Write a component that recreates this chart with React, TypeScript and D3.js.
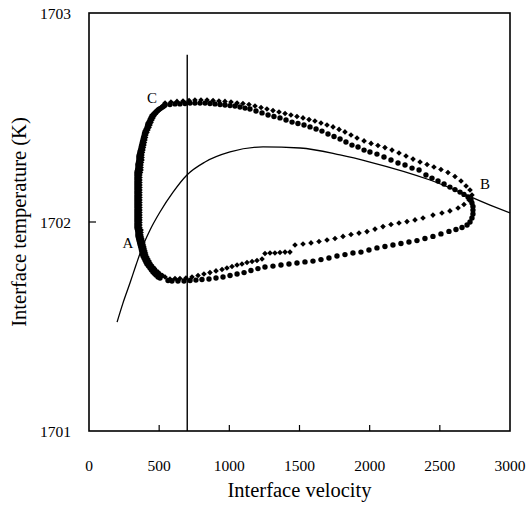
import React from "react";
import * as d3 from "d3";

// ---- data ----
const xTicks = [0, 500, 1000, 1500, 2000, 2500, 3000];
const yTicks = [1701, 1702, 1703];
const xTitle = "Interface velocity";
const yTitle = "Interface temperature (K)";

const verticalLineV = 700;
const verticalLineT = [1701, 1702.8];

// steady-state curve
const curvePoints: [number, number][] = [
  [200, 1701.521], [242, 1701.612], [292, 1701.708], [335, 1701.794], [378, 1701.876],
  [435, 1701.962], [506, 1702.048], [599, 1702.143], [698, 1702.225], [827, 1702.287],
  [1005, 1702.335], [1240, 1702.359], [1504, 1702.354], [1789, 1702.321], [2002, 1702.287],
  [2430, 1702.201], [2858, 1702.081], [3000, 1702.043],
];

// loop series drawn with circles
const circleSeries: [number, number][] = [
  [542, 1702.560], [577, 1702.562], [613, 1702.565], [648, 1702.565], [684, 1702.567],
  [720, 1702.569], [755, 1702.569], [791, 1702.569], [827, 1702.569], [862, 1702.567],
  [898, 1702.565], [934, 1702.562], [969, 1702.560], [1005, 1702.557], [1040, 1702.555],
  [1076, 1702.550], [1112, 1702.545], [1147, 1702.541], [1190, 1702.531], [1233, 1702.522],
  [1276, 1702.512], [1318, 1702.505], [1361, 1702.498], [1404, 1702.488], [1447, 1702.478],
  [1489, 1702.471], [1532, 1702.464], [1575, 1702.455], [1618, 1702.445], [1660, 1702.435],
  [1703, 1702.421], [1746, 1702.409], [1789, 1702.397], [1831, 1702.383], [1874, 1702.368],
  [1917, 1702.359], [1960, 1702.344], [2002, 1702.335], [2052, 1702.325], [2102, 1702.311],
  [2152, 1702.297], [2202, 1702.282], [2252, 1702.273], [2302, 1702.258], [2352, 1702.249],
  [2401, 1702.225], [2444, 1702.210], [2487, 1702.196], [2530, 1702.182], [2572, 1702.167],
  [2608, 1702.155], [2644, 1702.143], [2672, 1702.132], [2701, 1702.120], [2722, 1702.105],
  [2729, 1702.091], [2736, 1702.074], [2736, 1702.057], [2736, 1702.038], [2729, 1702.019],
  [2715, 1702.000], [2694, 1701.986], [2658, 1701.974], [2615, 1701.964], [2565, 1701.955],
  [2508, 1701.943], [2451, 1701.931], [2394, 1701.921], [2337, 1701.911], [2280, 1701.904],
  [2223, 1701.897], [2166, 1701.890], [2109, 1701.883], [2052, 1701.876], [1995, 1701.866],
  [1938, 1701.856], [1881, 1701.852], [1824, 1701.844], [1767, 1701.837], [1710, 1701.828],
  [1653, 1701.820], [1596, 1701.813], [1539, 1701.809], [1482, 1701.804], [1425, 1701.799],
  [1368, 1701.794], [1311, 1701.789], [1254, 1701.785], [1204, 1701.777], [1154, 1701.768],
  [1105, 1701.758], [1055, 1701.751], [1005, 1701.744], [955, 1701.737], [905, 1701.732],
  [855, 1701.727], [805, 1701.725], [762, 1701.722], [720, 1701.720], [677, 1701.718],
  [634, 1701.718], [591, 1701.718], [563, 1701.720], [506, 1701.732], [477, 1701.746],
  [456, 1701.761], [435, 1701.780], [413, 1701.799], [399, 1701.818], [385, 1701.837],
  [378, 1701.856], [371, 1701.876], [363, 1701.895], [356, 1701.914], [349, 1701.933],
  [349, 1701.952], [342, 1701.971], [342, 1701.990], [342, 1702.010], [342, 1702.029],
  [342, 1702.048], [342, 1702.067], [342, 1702.086], [342, 1702.105], [342, 1702.124],
  [342, 1702.143], [342, 1702.163], [342, 1702.182], [342, 1702.201], [342, 1702.220],
  [342, 1702.239], [349, 1702.258], [349, 1702.277], [356, 1702.297], [356, 1702.316],
  [363, 1702.335], [371, 1702.354], [378, 1702.373], [385, 1702.392], [392, 1702.411],
  [399, 1702.431], [413, 1702.450], [420, 1702.469], [435, 1702.488], [449, 1702.507],
  [470, 1702.522], [492, 1702.536], [513, 1702.545], [534, 1702.555],
  // dense left band
  [492, 1701.737], [467, 1701.754], [445, 1701.770], [424, 1701.789], [406, 1701.809],
  [392, 1701.828], [381, 1701.847], [374, 1701.866], [367, 1701.885], [360, 1701.904],
  [353, 1701.923], [349, 1701.943], [346, 1701.962], [342, 1701.981], [342, 1702.000],
  [342, 1702.019], [342, 1702.038], [342, 1702.057], [342, 1702.077], [342, 1702.096],
  [342, 1702.115], [342, 1702.134], [342, 1702.153], [342, 1702.172], [342, 1702.191],
  [342, 1702.210], [342, 1702.230], [346, 1702.249], [349, 1702.268], [353, 1702.287],
  [356, 1702.306], [360, 1702.325], [367, 1702.344], [374, 1702.364], [381, 1702.383],
  [388, 1702.402], [395, 1702.421], [406, 1702.440], [417, 1702.459], [428, 1702.478],
  [442, 1702.498], [460, 1702.514], [481, 1702.529], [502, 1702.541], [524, 1702.550],
];

// loop series drawn with diamonds
const diamondSeries: [number, number][] = [
  [542, 1702.569], [584, 1702.574], [627, 1702.577], [670, 1702.579], [713, 1702.581],
  [755, 1702.584], [798, 1702.584], [841, 1702.584], [884, 1702.581], [926, 1702.579],
  [969, 1702.577], [1012, 1702.574], [1055, 1702.569], [1097, 1702.567], [1140, 1702.562],
  [1183, 1702.555], [1226, 1702.548], [1268, 1702.541], [1311, 1702.533], [1354, 1702.526],
  [1397, 1702.519], [1439, 1702.512], [1482, 1702.505], [1525, 1702.498], [1568, 1702.490],
  [1610, 1702.483], [1653, 1702.474], [1696, 1702.464], [1739, 1702.455], [1782, 1702.443],
  [1824, 1702.431], [1867, 1702.416], [1910, 1702.402], [1960, 1702.388], [2010, 1702.376],
  [2059, 1702.366], [2109, 1702.356], [2159, 1702.344], [2209, 1702.330], [2259, 1702.316],
  [2309, 1702.301], [2359, 1702.287], [2409, 1702.275], [2458, 1702.263], [2508, 1702.251],
  [2558, 1702.237], [2608, 1702.218], [2651, 1702.196], [2687, 1702.172], [2715, 1702.153],
  [2729, 1702.129], [2708, 1702.105], [2672, 1702.084], [2630, 1702.067], [2572, 1702.053],
  [2515, 1702.043], [2451, 1702.033], [2380, 1702.019], [2323, 1702.010], [2266, 1702.002],
  [2209, 1701.995], [2152, 1701.988], [2095, 1701.978], [2038, 1701.966], [1981, 1701.954],
  [1924, 1701.947], [1867, 1701.940], [1810, 1701.931], [1753, 1701.921], [1696, 1701.914],
  [1639, 1701.907], [1582, 1701.900], [1525, 1701.895], [1468, 1701.890], [1432, 1701.856],
  [1397, 1701.856], [1361, 1701.854], [1325, 1701.852], [1290, 1701.852], [1254, 1701.849],
  [1233, 1701.823], [1197, 1701.816], [1162, 1701.811], [1126, 1701.806], [1090, 1701.799],
  [1055, 1701.794], [1019, 1701.787], [983, 1701.780], [948, 1701.773], [905, 1701.766],
  [862, 1701.758], [819, 1701.751], [777, 1701.744], [734, 1701.737], [691, 1701.732],
  [648, 1701.730], [613, 1701.730], [577, 1701.727], [542, 1701.737], [506, 1701.751],
  [477, 1701.768], [456, 1701.785], [435, 1701.804], [420, 1701.823], [406, 1701.842],
  [399, 1701.861], [392, 1701.880], [385, 1701.900], [378, 1701.919], [371, 1701.938],
  [371, 1701.962], [363, 1701.986], [363, 1702.010], [363, 1702.033], [363, 1702.057],
  [363, 1702.081], [363, 1702.105], [363, 1702.129], [363, 1702.153], [363, 1702.177],
  [363, 1702.201], [363, 1702.225], [371, 1702.249], [371, 1702.273], [378, 1702.297],
  [378, 1702.321], [385, 1702.344], [392, 1702.368], [399, 1702.392], [406, 1702.416],
  [420, 1702.440], [435, 1702.464], [449, 1702.488], [463, 1702.507], [485, 1702.526],
  [506, 1702.541], [527, 1702.555],
  // dense left band
  [363, 1701.974], [363, 1701.998], [363, 1702.021], [363, 1702.045], [363, 1702.069],
  [363, 1702.093], [363, 1702.117], [363, 1702.141], [363, 1702.165], [363, 1702.189],
  [363, 1702.213], [367, 1702.237], [371, 1701.950], [374, 1701.928], [381, 1701.909],
  [388, 1701.890], [395, 1701.871], [403, 1701.852], [413, 1701.832], [428, 1701.813],
  [445, 1701.794], [467, 1701.777], [492, 1701.761], [524, 1701.744], [371, 1702.261],
  [374, 1702.285], [378, 1702.309], [381, 1702.333], [388, 1702.356], [395, 1702.380],
  [403, 1702.404], [413, 1702.428], [428, 1702.452], [442, 1702.476], [456, 1702.498],
  [474, 1702.517], [495, 1702.533], [517, 1702.548],
];

const pointLabels = ["A", "B", "C"];
const pointLabelPos: [number, number][] = [
  [278, 1701.904],
  [2822, 1702.182],
  [449, 1702.598],
];

// ---- layout ----
const W = 527;
const H = 506;
const left = 89;
const right = 510;
const top = 13;
const bottom = 431;
const FONT = "'Liberation Serif', 'Times New Roman', serif";

export default function App() {
  const x = d3.scaleLinear().domain([0, 3000]).range([left, right]);
  const y = d3.scaleLinear().domain([1701, 1703]).range([bottom, top]);

  const line = d3
    .line<[number, number]>()
    .x((d) => x(d[0]))
    .y((d) => y(d[1]))
    .curve(d3.curveMonotoneX);

  const dr = 2.8;
  const diamondPath = `M0,${-dr}L${dr},0L0,${dr}L${-dr},0Z`;

  return (
    <svg
      width={W}
      height={H}
      style={{ position: "absolute", left: 0, top: 0, background: "#fff" }}
    >
      <rect x={0} y={0} width={W} height={H} fill="#fff" />
      {/* steady curve */}
      <path d={line(curvePoints) ?? ""} fill="none" stroke="#000" strokeWidth={1.3} />
      {/* vertical line */}
      <line
        x1={x(verticalLineV)}
        x2={x(verticalLineV)}
        y1={y(verticalLineT[0])}
        y2={y(verticalLineT[1])}
        stroke="#000"
        strokeWidth={1.4}
      />
      {/* markers */}
      <g fill="#000">
        {diamondSeries.map((d, i) => (
          <path key={"d" + i} d={diamondPath} transform={`translate(${x(d[0])},${y(d[1])})`} />
        ))}
        {circleSeries.map((d, i) => (
          <circle key={"c" + i} cx={x(d[0])} cy={y(d[1])} r={2.7} />
        ))}
      </g>
      {/* frame */}
      <rect
        x={left}
        y={top}
        width={right - left}
        height={bottom - top}
        fill="none"
        stroke="#000"
        strokeWidth={1.6}
      />
      {/* ticks */}
      {xTicks.slice(1, -1).map((t) => (
        <line key={"xt" + t} x1={x(t)} x2={x(t)} y1={bottom} y2={bottom - 6} stroke="#000" strokeWidth={1.2} />
      ))}
      {yTicks.slice(1, -1).map((t) => (
        <line key={"yt" + t} x1={left} x2={left + 7} y1={y(t)} y2={y(t)} stroke="#000" strokeWidth={1.2} />
      ))}
      {/* tick labels */}
      <g fontFamily={FONT} fontSize={15.5} fill="#000">
        {xTicks.map((t) => (
          <text key={"xl" + t} x={x(t)} y={470.5} textAnchor="middle">
            {t}
          </text>
        ))}
        {yTicks.map((t) => (
          <text key={"yl" + t} x={71} y={y(t) + 5.5} textAnchor="end">
            {t}
          </text>
        ))}
      </g>
      {/* titles */}
      <text x={(left + right) / 2} y={497} textAnchor="middle" fontFamily={FONT} fontSize={20.5}>
        {xTitle}
      </text>
      <text
        transform={`translate(26,${(top + bottom) / 2}) rotate(-90)`}
        textAnchor="middle"
        fontFamily={FONT}
        fontSize={20.5}
      >
        {yTitle}
      </text>
      {/* point labels */}
      <g fontFamily={FONT} fontSize={15} fill="#000">
        {pointLabels.map((l, i) => (
          <text
            key={l}
            x={x(pointLabelPos[i][0])}
            y={y(pointLabelPos[i][1]) + 5.5}
            textAnchor="middle"
          >
            {l}
          </text>
        ))}
      </g>
    </svg>
  );
}
